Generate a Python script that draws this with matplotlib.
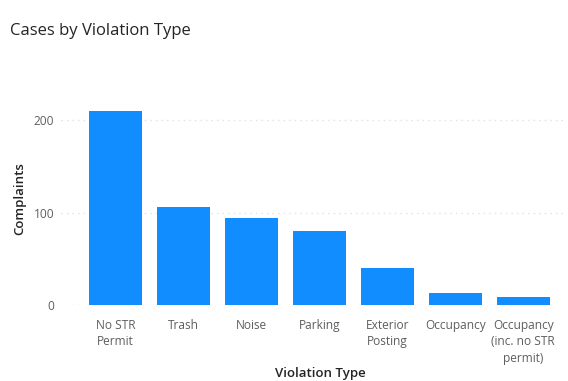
import matplotlib.pyplot as plt

# data
categories = ['No STR\nPermit', 'Trash', 'Noise', 'Parking', 'Exterior\nPosting',
              'Occupancy', 'Occupancy\n(inc. no STR\npermit)']
complaints = [210, 106, 94, 80, 40, 13, 9]
y_ticks = [0, 100, 200]

plt.rcParams['font.family'] = ['Open Sans', 'DejaVu Sans']

fig = plt.figure(figsize=(5.68, 3.81), dpi=100)
ax = fig.add_axes([61 / 568, 76 / 381, 505 / 568, 212.75 / 381])

x = range(len(categories))
ax.bar(x, complaints, width=0.78, color='#118DFF', zorder=3)

ax.set_xlim(-0.8, 6.63)
ax.set_ylim(0, 230)
ax.set_yticks(y_ticks)
ax.set_xticks(list(x))
ax.set_xticklabels(categories, fontsize=8.6, color='#605E5C', linespacing=1.35)
ax.tick_params(axis='y', labelsize=8.6, labelcolor='#605E5C', length=0, pad=5)
ax.tick_params(axis='x', length=0, pad=10)

# dotted gridlines like Power BI
ax.grid(axis='y', color='#E1E1E1', linestyle=(0, (1, 3)), linewidth=1, zorder=0)
for s in ax.spines.values():
    s.set_visible(False)

ax.set_ylabel('Complaints', fontsize=9.5, color='#252423', labelpad=5, fontweight='semibold')
# x axis title placed by hand, the 3-line tick label would push it off the figure
fig.text(320 / 568, 1 - 373 / 381, 'Violation Type', fontsize=9.5, color='#252423',
         fontweight='semibold', ha='center', va='center')

fig.text(10 / 568, 1 - 31 / 381, 'Cases by Violation Type', fontsize=12,
         color='#252423', va='center', ha='left')

fig.savefig('out.png', dpi=100)
